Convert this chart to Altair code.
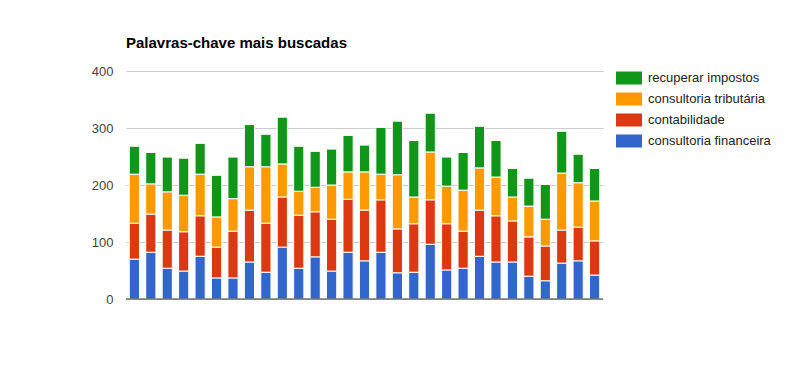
import altair as alt
import pandas as pd

series = ["recuperar impostos", "consultoria tributária", "contabilidade", "consultoria financeira"]
colors = ["#109618", "#ff9900", "#dc3912", "#3366cc"]

categories = list(range(1, 30))
financeira = [70, 82, 54, 49, 75, 37, 37, 65, 47, 91, 54, 74, 49, 82, 67, 82, 46, 47, 96, 51, 54, 75, 65, 65, 40, 32, 63, 67, 42]
contabilidade = [63, 67, 67, 69, 71, 54, 82, 91, 86, 88, 93, 79, 91, 93, 89, 92, 77, 85, 78, 81, 65, 81, 81, 72, 69, 61, 58, 59, 60]
tributaria = [86, 53, 67, 64, 73, 53, 57, 76, 99, 58, 42, 43, 60, 48, 67, 45, 95, 47, 84, 66, 72, 74, 68, 42, 54, 47, 100, 78, 70]
recuperar = [49, 55, 61, 65, 54, 73, 73, 74, 57, 82, 79, 63, 63, 64, 47, 82, 94, 99, 68, 51, 66, 73, 64, 50, 49, 61, 73, 50, 57]

rows = []
for vals, name, order in [(financeira, series[3], 0), (contabilidade, series[2], 1),
                          (tributaria, series[1], 2), (recuperar, series[0], 3)]:
    for c, v in zip(categories, vals):
        rows.append({"cat": c, "serie": name, "valor": v, "ord": order})
df = pd.DataFrame(rows)

bars = alt.Chart(df).mark_bar(stroke="white", strokeWidth=1).encode(
    x=alt.X("cat:O", axis=None,
            scale=alt.Scale(paddingInner=0.38, paddingOuter=0.2)),
    y=alt.Y("valor:Q", stack="zero",
            scale=alt.Scale(domain=[0, 400], nice=False),
            axis=alt.Axis(values=[0, 100, 200, 300, 400], title=None, domain=False,
                          ticks=False, labelPadding=13, labelFontSize=13,
                          labelColor="#444444", labelFont="Liberation Sans",
                          gridColor="#cccccc", gridWidth=1)),
    color=alt.Color("serie:N", sort=series,
                    scale=alt.Scale(domain=series, range=colors),
                    legend=alt.Legend(title=None, orient="none", legendX=496.5, legendY=0.5,
                                      symbolType="M-2,-1H2V1H-2Z", symbolSize=169,
                                      symbolStrokeWidth=0, symbolOpacity=1,
                                      labelOffset=12.5, labelFontSize=13,
                                      labelFont="Liberation Sans", labelColor="#222222",
                                      rowPadding=7, padding=0)),
    order=alt.Order("ord:Q"),
)

base_rule = alt.Chart(pd.DataFrame({"y": [0]})).mark_rule(color="#333333", strokeWidth=1).encode(
    y=alt.Y("y:Q", scale=alt.Scale(domain=[0, 400], nice=False))
)

chart = alt.layer(bars, base_rule).properties(
    width=477, height=228,
    background="white",
    autosize=alt.AutoSizeParams(type="none"),
    padding={"left": 118, "top": 63, "right": 180, "bottom": 60},
    title=alt.TitleParams("Palavras-chave mais buscadas", anchor="start", frame="group",
                          font="Liberation Sans", fontSize=15, fontWeight="bold",
                          color="#000000", baseline="alphabetic", offset=2),
).configure_view(stroke=None, strokeWidth=0)

chart.save("out.html", embed_options={"renderer": "svg", "actions": False})
